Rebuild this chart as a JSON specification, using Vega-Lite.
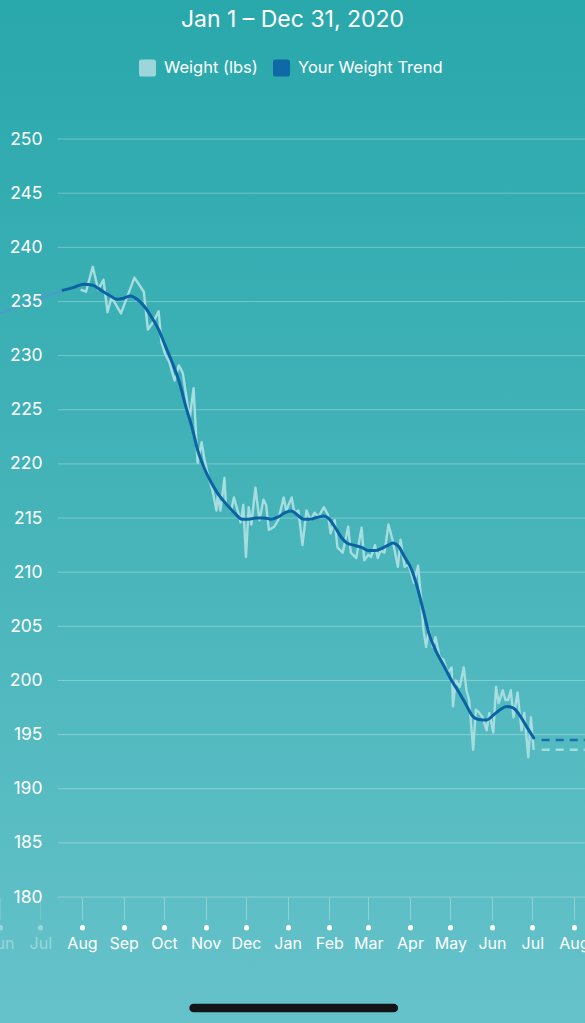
{
  "$schema": "https://vega.github.io/schema/vega-lite/v6.json",
  "width": 585,
  "height": 1023,
  "autosize": "none",
  "padding": 0,
  "background": "#48b5ba",
  "config": {"view": {"stroke": null}, "font": "Inter"},
  "title": {"text": "Jan 1 – Dec 31, 2020", "color": "white", "fontSize": 23, "font": "Inter", "fontWeight": "normal", "anchor": "middle", "frame": "group", "offset": -32, "zindex": 2},
  "datasets": {
    "grid": [{"level":180},{"level":185},{"level":190},{"level":195},{"level":200},{"level":205},{"level":210},{"level":215},{"level":220},{"level":225},{"level":230},{"level":235},{"level":240},{"level":245},{"level":250}],
    "series": [
      {"date":"2019-07-31","weight":236.1,"series":"Weight (lbs)","part":"actual"},
      {"date":"2019-08-04","weight":235.9,"series":"Weight (lbs)","part":"actual"},
      {"date":"2019-08-09","weight":238.2,"series":"Weight (lbs)","part":"actual"},
      {"date":"2019-08-13","weight":236.1,"series":"Weight (lbs)","part":"actual"},
      {"date":"2019-08-17","weight":237.0,"series":"Weight (lbs)","part":"actual"},
      {"date":"2019-08-20","weight":234.0,"series":"Weight (lbs)","part":"actual"},
      {"date":"2019-08-23","weight":235.4,"series":"Weight (lbs)","part":"actual"},
      {"date":"2019-08-30","weight":233.9,"series":"Weight (lbs)","part":"actual"},
      {"date":"2019-09-09","weight":237.2,"series":"Weight (lbs)","part":"actual"},
      {"date":"2019-09-16","weight":235.9,"series":"Weight (lbs)","part":"actual"},
      {"date":"2019-09-19","weight":232.4,"series":"Weight (lbs)","part":"actual"},
      {"date":"2019-09-23","weight":233.1,"series":"Weight (lbs)","part":"actual"},
      {"date":"2019-09-27","weight":234.1,"series":"Weight (lbs)","part":"actual"},
      {"date":"2019-09-29","weight":231.3,"series":"Weight (lbs)","part":"actual"},
      {"date":"2019-10-02","weight":230.1,"series":"Weight (lbs)","part":"actual"},
      {"date":"2019-10-05","weight":229.4,"series":"Weight (lbs)","part":"actual"},
      {"date":"2019-10-07","weight":228.5,"series":"Weight (lbs)","part":"actual"},
      {"date":"2019-10-09","weight":227.7,"series":"Weight (lbs)","part":"actual"},
      {"date":"2019-10-12","weight":229.1,"series":"Weight (lbs)","part":"actual"},
      {"date":"2019-10-15","weight":228.4,"series":"Weight (lbs)","part":"actual"},
      {"date":"2019-10-18","weight":225.9,"series":"Weight (lbs)","part":"actual"},
      {"date":"2019-10-20","weight":224.1,"series":"Weight (lbs)","part":"actual"},
      {"date":"2019-10-23","weight":227.0,"series":"Weight (lbs)","part":"actual"},
      {"date":"2019-10-26","weight":220.1,"series":"Weight (lbs)","part":"actual"},
      {"date":"2019-10-29","weight":222.0,"series":"Weight (lbs)","part":"actual"},
      {"date":"2019-10-31","weight":220.5,"series":"Weight (lbs)","part":"actual"},
      {"date":"2019-11-03","weight":218.8,"series":"Weight (lbs)","part":"actual"},
      {"date":"2019-11-06","weight":217.6,"series":"Weight (lbs)","part":"actual"},
      {"date":"2019-11-09","weight":215.7,"series":"Weight (lbs)","part":"actual"},
      {"date":"2019-11-10","weight":217.1,"series":"Weight (lbs)","part":"actual"},
      {"date":"2019-11-12","weight":215.7,"series":"Weight (lbs)","part":"actual"},
      {"date":"2019-11-15","weight":218.7,"series":"Weight (lbs)","part":"actual"},
      {"date":"2019-11-16","weight":216.4,"series":"Weight (lbs)","part":"actual"},
      {"date":"2019-11-20","weight":215.7,"series":"Weight (lbs)","part":"actual"},
      {"date":"2019-11-22","weight":216.9,"series":"Weight (lbs)","part":"actual"},
      {"date":"2019-11-25","weight":215.6,"series":"Weight (lbs)","part":"actual"},
      {"date":"2019-11-27","weight":214.6,"series":"Weight (lbs)","part":"actual"},
      {"date":"2019-11-29","weight":216.2,"series":"Weight (lbs)","part":"actual"},
      {"date":"2019-12-01","weight":211.4,"series":"Weight (lbs)","part":"actual"},
      {"date":"2019-12-03","weight":216.0,"series":"Weight (lbs)","part":"actual"},
      {"date":"2019-12-05","weight":214.4,"series":"Weight (lbs)","part":"actual"},
      {"date":"2019-12-08","weight":217.8,"series":"Weight (lbs)","part":"actual"},
      {"date":"2019-12-11","weight":214.8,"series":"Weight (lbs)","part":"actual"},
      {"date":"2019-12-14","weight":216.7,"series":"Weight (lbs)","part":"actual"},
      {"date":"2019-12-16","weight":216.2,"series":"Weight (lbs)","part":"actual"},
      {"date":"2019-12-18","weight":213.9,"series":"Weight (lbs)","part":"actual"},
      {"date":"2019-12-22","weight":214.2,"series":"Weight (lbs)","part":"actual"},
      {"date":"2019-12-25","weight":214.8,"series":"Weight (lbs)","part":"actual"},
      {"date":"2019-12-29","weight":216.9,"series":"Weight (lbs)","part":"actual"},
      {"date":"2019-12-31","weight":215.7,"series":"Weight (lbs)","part":"actual"},
      {"date":"2020-01-04","weight":216.9,"series":"Weight (lbs)","part":"actual"},
      {"date":"2020-01-06","weight":215.5,"series":"Weight (lbs)","part":"actual"},
      {"date":"2020-01-09","weight":215.7,"series":"Weight (lbs)","part":"actual"},
      {"date":"2020-01-12","weight":212.5,"series":"Weight (lbs)","part":"actual"},
      {"date":"2020-01-15","weight":215.7,"series":"Weight (lbs)","part":"actual"},
      {"date":"2020-01-18","weight":214.8,"series":"Weight (lbs)","part":"actual"},
      {"date":"2020-01-21","weight":215.5,"series":"Weight (lbs)","part":"actual"},
      {"date":"2020-01-24","weight":215.1,"series":"Weight (lbs)","part":"actual"},
      {"date":"2020-01-26","weight":215.6,"series":"Weight (lbs)","part":"actual"},
      {"date":"2020-01-28","weight":216.0,"series":"Weight (lbs)","part":"actual"},
      {"date":"2020-01-31","weight":215.3,"series":"Weight (lbs)","part":"actual"},
      {"date":"2020-02-02","weight":213.6,"series":"Weight (lbs)","part":"actual"},
      {"date":"2020-02-05","weight":214.8,"series":"Weight (lbs)","part":"actual"},
      {"date":"2020-02-07","weight":212.3,"series":"Weight (lbs)","part":"actual"},
      {"date":"2020-02-11","weight":211.8,"series":"Weight (lbs)","part":"actual"},
      {"date":"2020-02-15","weight":214.2,"series":"Weight (lbs)","part":"actual"},
      {"date":"2020-02-17","weight":211.8,"series":"Weight (lbs)","part":"actual"},
      {"date":"2020-02-21","weight":211.3,"series":"Weight (lbs)","part":"actual"},
      {"date":"2020-02-25","weight":214.1,"series":"Weight (lbs)","part":"actual"},
      {"date":"2020-02-27","weight":211.1,"series":"Weight (lbs)","part":"actual"},
      {"date":"2020-03-01","weight":211.6,"series":"Weight (lbs)","part":"actual"},
      {"date":"2020-03-03","weight":211.4,"series":"Weight (lbs)","part":"actual"},
      {"date":"2020-03-06","weight":212.5,"series":"Weight (lbs)","part":"actual"},
      {"date":"2020-03-08","weight":211.3,"series":"Weight (lbs)","part":"actual"},
      {"date":"2020-03-10","weight":212.0,"series":"Weight (lbs)","part":"actual"},
      {"date":"2020-03-13","weight":211.8,"series":"Weight (lbs)","part":"actual"},
      {"date":"2020-03-16","weight":214.4,"series":"Weight (lbs)","part":"actual"},
      {"date":"2020-03-19","weight":213.0,"series":"Weight (lbs)","part":"actual"},
      {"date":"2020-03-22","weight":211.1,"series":"Weight (lbs)","part":"actual"},
      {"date":"2020-03-23","weight":210.5,"series":"Weight (lbs)","part":"actual"},
      {"date":"2020-03-25","weight":213.0,"series":"Weight (lbs)","part":"actual"},
      {"date":"2020-03-28","weight":210.5,"series":"Weight (lbs)","part":"actual"},
      {"date":"2020-03-31","weight":210.7,"series":"Weight (lbs)","part":"actual"},
      {"date":"2020-04-04","weight":209.0,"series":"Weight (lbs)","part":"actual"},
      {"date":"2020-04-07","weight":210.6,"series":"Weight (lbs)","part":"actual"},
      {"date":"2020-04-09","weight":207.9,"series":"Weight (lbs)","part":"actual"},
      {"date":"2020-04-11","weight":204.7,"series":"Weight (lbs)","part":"actual"},
      {"date":"2020-04-13","weight":203.1,"series":"Weight (lbs)","part":"actual"},
      {"date":"2020-04-15","weight":204.7,"series":"Weight (lbs)","part":"actual"},
      {"date":"2020-04-18","weight":203.1,"series":"Weight (lbs)","part":"actual"},
      {"date":"2020-04-20","weight":204.0,"series":"Weight (lbs)","part":"actual"},
      {"date":"2020-04-23","weight":202.2,"series":"Weight (lbs)","part":"actual"},
      {"date":"2020-04-26","weight":201.9,"series":"Weight (lbs)","part":"actual"},
      {"date":"2020-04-29","weight":200.7,"series":"Weight (lbs)","part":"actual"},
      {"date":"2020-05-02","weight":201.2,"series":"Weight (lbs)","part":"actual"},
      {"date":"2020-05-03","weight":197.6,"series":"Weight (lbs)","part":"actual"},
      {"date":"2020-05-05","weight":200.0,"series":"Weight (lbs)","part":"actual"},
      {"date":"2020-05-08","weight":199.4,"series":"Weight (lbs)","part":"actual"},
      {"date":"2020-05-11","weight":201.2,"series":"Weight (lbs)","part":"actual"},
      {"date":"2020-05-13","weight":199.1,"series":"Weight (lbs)","part":"actual"},
      {"date":"2020-05-15","weight":198.2,"series":"Weight (lbs)","part":"actual"},
      {"date":"2020-05-18","weight":193.6,"series":"Weight (lbs)","part":"actual"},
      {"date":"2020-05-20","weight":197.3,"series":"Weight (lbs)","part":"actual"},
      {"date":"2020-05-22","weight":197.1,"series":"Weight (lbs)","part":"actual"},
      {"date":"2020-05-25","weight":196.6,"series":"Weight (lbs)","part":"actual"},
      {"date":"2020-05-28","weight":195.4,"series":"Weight (lbs)","part":"actual"},
      {"date":"2020-05-30","weight":197.0,"series":"Weight (lbs)","part":"actual"},
      {"date":"2020-06-02","weight":195.2,"series":"Weight (lbs)","part":"actual"},
      {"date":"2020-06-04","weight":199.4,"series":"Weight (lbs)","part":"actual"},
      {"date":"2020-06-06","weight":197.9,"series":"Weight (lbs)","part":"actual"},
      {"date":"2020-06-09","weight":199.1,"series":"Weight (lbs)","part":"actual"},
      {"date":"2020-06-11","weight":198.2,"series":"Weight (lbs)","part":"actual"},
      {"date":"2020-06-13","weight":198.2,"series":"Weight (lbs)","part":"actual"},
      {"date":"2020-06-15","weight":199.1,"series":"Weight (lbs)","part":"actual"},
      {"date":"2020-06-17","weight":196.6,"series":"Weight (lbs)","part":"actual"},
      {"date":"2020-06-20","weight":198.9,"series":"Weight (lbs)","part":"actual"},
      {"date":"2020-06-23","weight":195.4,"series":"Weight (lbs)","part":"actual"},
      {"date":"2020-06-25","weight":197.0,"series":"Weight (lbs)","part":"actual"},
      {"date":"2020-06-28","weight":192.9,"series":"Weight (lbs)","part":"actual"},
      {"date":"2020-06-30","weight":196.6,"series":"Weight (lbs)","part":"actual"},
      {"date":"2020-07-02","weight":193.6,"series":"Weight (lbs)","part":"actual"},
      {"date":"2020-07-08","weight":193.6,"series":"Weight (lbs)","part":"projection"},
      {"date":"2020-08-09","weight":193.6,"series":"Weight (lbs)","part":"projection"},
      {"date":"2019-06-01","weight":233.9,"series":"Your Weight Trend","part":"past"},
      {"date":"2019-07-18","weight":236.05,"series":"Your Weight Trend","part":"past"},
      {"date":"2019-07-18","weight":236.05,"series":"Your Weight Trend","part":"actual"},
      {"date":"2019-07-26","weight":236.3,"series":"Your Weight Trend","part":"actual"},
      {"date":"2019-08-02","weight":236.6,"series":"Your Weight Trend","part":"actual"},
      {"date":"2019-08-09","weight":236.5,"series":"Your Weight Trend","part":"actual"},
      {"date":"2019-08-15","weight":236.05,"series":"Your Weight Trend","part":"actual"},
      {"date":"2019-08-21","weight":235.6,"series":"Your Weight Trend","part":"actual"},
      {"date":"2019-08-27","weight":235.2,"series":"Your Weight Trend","part":"actual"},
      {"date":"2019-09-01","weight":235.3,"series":"Your Weight Trend","part":"actual"},
      {"date":"2019-09-06","weight":235.5,"series":"Your Weight Trend","part":"actual"},
      {"date":"2019-09-11","weight":235.2,"series":"Your Weight Trend","part":"actual"},
      {"date":"2019-09-16","weight":234.6,"series":"Your Weight Trend","part":"actual"},
      {"date":"2019-09-21","weight":233.7,"series":"Your Weight Trend","part":"actual"},
      {"date":"2019-09-27","weight":232.4,"series":"Your Weight Trend","part":"actual"},
      {"date":"2019-10-02","weight":230.9,"series":"Your Weight Trend","part":"actual"},
      {"date":"2019-10-08","weight":229.1,"series":"Your Weight Trend","part":"actual"},
      {"date":"2019-10-13","weight":227.3,"series":"Your Weight Trend","part":"actual"},
      {"date":"2019-10-17","weight":225.4,"series":"Your Weight Trend","part":"actual"},
      {"date":"2019-10-22","weight":223.3,"series":"Your Weight Trend","part":"actual"},
      {"date":"2019-10-26","weight":221.3,"series":"Your Weight Trend","part":"actual"},
      {"date":"2019-10-31","weight":219.6,"series":"Your Weight Trend","part":"actual"},
      {"date":"2019-11-05","weight":218.3,"series":"Your Weight Trend","part":"actual"},
      {"date":"2019-11-11","weight":217.1,"series":"Your Weight Trend","part":"actual"},
      {"date":"2019-11-17","weight":216.2,"series":"Your Weight Trend","part":"actual"},
      {"date":"2019-11-23","weight":215.4,"series":"Your Weight Trend","part":"actual"},
      {"date":"2019-11-28","weight":214.9,"series":"Your Weight Trend","part":"actual"},
      {"date":"2019-12-03","weight":214.9,"series":"Your Weight Trend","part":"actual"},
      {"date":"2019-12-09","weight":215.0,"series":"Your Weight Trend","part":"actual"},
      {"date":"2019-12-14","weight":215.0,"series":"Your Weight Trend","part":"actual"},
      {"date":"2019-12-20","weight":214.9,"series":"Your Weight Trend","part":"actual"},
      {"date":"2019-12-25","weight":215.1,"series":"Your Weight Trend","part":"actual"},
      {"date":"2019-12-30","weight":215.5,"series":"Your Weight Trend","part":"actual"},
      {"date":"2020-01-04","weight":215.65,"series":"Your Weight Trend","part":"actual"},
      {"date":"2020-01-08","weight":215.3,"series":"Your Weight Trend","part":"actual"},
      {"date":"2020-01-13","weight":214.9,"series":"Your Weight Trend","part":"actual"},
      {"date":"2020-01-18","weight":214.9,"series":"Your Weight Trend","part":"actual"},
      {"date":"2020-01-24","weight":215.1,"series":"Your Weight Trend","part":"actual"},
      {"date":"2020-01-28","weight":215.2,"series":"Your Weight Trend","part":"actual"},
      {"date":"2020-02-01","weight":214.9,"series":"Your Weight Trend","part":"actual"},
      {"date":"2020-02-05","weight":214.2,"series":"Your Weight Trend","part":"actual"},
      {"date":"2020-02-10","weight":213.2,"series":"Your Weight Trend","part":"actual"},
      {"date":"2020-02-14","weight":212.7,"series":"Your Weight Trend","part":"actual"},
      {"date":"2020-02-19","weight":212.5,"series":"Your Weight Trend","part":"actual"},
      {"date":"2020-02-25","weight":212.3,"series":"Your Weight Trend","part":"actual"},
      {"date":"2020-03-01","weight":212.0,"series":"Your Weight Trend","part":"actual"},
      {"date":"2020-03-06","weight":212.0,"series":"Your Weight Trend","part":"actual"},
      {"date":"2020-03-11","weight":212.2,"series":"Your Weight Trend","part":"actual"},
      {"date":"2020-03-16","weight":212.5,"series":"Your Weight Trend","part":"actual"},
      {"date":"2020-03-19","weight":212.7,"series":"Your Weight Trend","part":"actual"},
      {"date":"2020-03-24","weight":212.3,"series":"Your Weight Trend","part":"actual"},
      {"date":"2020-03-28","weight":211.4,"series":"Your Weight Trend","part":"actual"},
      {"date":"2020-04-02","weight":210.3,"series":"Your Weight Trend","part":"actual"},
      {"date":"2020-04-06","weight":208.8,"series":"Your Weight Trend","part":"actual"},
      {"date":"2020-04-11","weight":206.4,"series":"Your Weight Trend","part":"actual"},
      {"date":"2020-04-15","weight":204.4,"series":"Your Weight Trend","part":"actual"},
      {"date":"2020-04-20","weight":202.8,"series":"Your Weight Trend","part":"actual"},
      {"date":"2020-04-26","weight":201.4,"series":"Your Weight Trend","part":"actual"},
      {"date":"2020-05-02","weight":200.0,"series":"Your Weight Trend","part":"actual"},
      {"date":"2020-05-08","weight":198.8,"series":"Your Weight Trend","part":"actual"},
      {"date":"2020-05-13","weight":197.7,"series":"Your Weight Trend","part":"actual"},
      {"date":"2020-05-17","weight":196.8,"series":"Your Weight Trend","part":"actual"},
      {"date":"2020-05-22","weight":196.4,"series":"Your Weight Trend","part":"actual"},
      {"date":"2020-05-28","weight":196.35,"series":"Your Weight Trend","part":"actual"},
      {"date":"2020-06-02","weight":196.8,"series":"Your Weight Trend","part":"actual"},
      {"date":"2020-06-07","weight":197.3,"series":"Your Weight Trend","part":"actual"},
      {"date":"2020-06-12","weight":197.6,"series":"Your Weight Trend","part":"actual"},
      {"date":"2020-06-17","weight":197.45,"series":"Your Weight Trend","part":"actual"},
      {"date":"2020-06-21","weight":196.9,"series":"Your Weight Trend","part":"actual"},
      {"date":"2020-06-26","weight":195.9,"series":"Your Weight Trend","part":"actual"},
      {"date":"2020-07-02","weight":194.7,"series":"Your Weight Trend","part":"actual"},
      {"date":"2020-07-08","weight":194.5,"series":"Your Weight Trend","part":"projection"},
      {"date":"2020-08-09","weight":194.5,"series":"Your Weight Trend","part":"projection"}
    ]
  },
  "data": {"name": "series"},
  "layer": [
    {
      "data": {"values": [{}]},
      "mark": {"type": "rect", "color": {"gradient": "linear", "x1": 0, "y1": 0, "x2": 0, "y2": 1, "stops": [{"offset": 0, "color": "#29a8ac"}, {"offset": 0.5, "color": "#45b4b9"}, {"offset": 1, "color": "#66c2ca"}]}},
      "encoding": {}
    },
    {
      "data": {"name": "grid"},
      "mark": {"type": "rule", "color": "white", "strokeWidth": 1, "opacity": 0.3},
      "encoding": {
        "y": {"field": "level", "type": "quantitative", "scale": {"domain": [168.37, 262.84], "zero": false, "nice": false}, "axis": null},
        "x": {"datum": {"year": 2019, "month": 7, "date": 14, "utc": true}, "type": "temporal", "scale": {"type": "utc", "domain": [{"year": 2019, "month": 6, "date": 1, "utc": true}, {"year": 2020, "month": 8, "date": 9, "hours": 5, "utc": true}]}, "axis": null},
        "x2": {"datum": {"year": 2020, "month": 8, "date": 9, "hours": 4, "utc": true}}
      }
    },
    {
      "data": {"values": [{}]},
      "mark": {"type": "rule", "color": "#121417", "strokeWidth": 8.5, "strokeCap": "round"},
      "encoding": {
        "y": {"datum": 169.76, "type": "quantitative", "axis": null},
        "x": {"datum": {"year": 2019, "month": 10, "date": 23, "utc": true}, "type": "temporal", "axis": null},
        "x2": {"datum": {"year": 2020, "month": 3, "date": 20, "utc": true}}
      }
    },
    {
      "transform": [{"filter": "datum.part === 'past'"}],
      "mark": {"type": "line", "strokeWidth": 2.5, "color": "#4a9dc9", "opacity": 1},
      "encoding": {
        "x": {"field": "date", "type": "temporal", "axis": null},
        "y": {"field": "weight", "type": "quantitative", "axis": null}
      }
    },
    {
      "transform": [{"filter": "datum.part === 'actual' && datum.series === 'Weight (lbs)'"}],
      "mark": {"type": "line", "strokeWidth": 2.4, "strokeJoin": "round", "color": "#a6dde0"},
      "encoding": {
        "x": {"field": "date", "type": "temporal", "axis": {"zindex": 2, "orient": "bottom", "offset": -126, "values": [{"year":2019,"month":6,"date":1,"utc":true},{"year":2019,"month":7,"date":1,"utc":true},{"year":2019,"month":8,"date":1,"utc":true},{"year":2019,"month":9,"date":1,"utc":true},{"year":2019,"month":10,"date":1,"utc":true},{"year":2019,"month":11,"date":1,"utc":true},{"year":2019,"month":12,"date":1,"utc":true},{"year":2020,"month":1,"date":1,"utc":true},{"year":2020,"month":2,"date":1,"utc":true},{"year":2020,"month":3,"date":1,"utc":true},{"year":2020,"month":4,"date":1,"utc":true},{"year":2020,"month":5,"date":1,"utc":true},{"year":2020,"month":6,"date":1,"utc":true},{"year":2020,"month":7,"date":1,"utc":true},{"year":2020,"month":8,"date":1,"utc":true}], "labels": false, "domain": false, "grid": false, "ticks": true, "tickSize": 23, "tickColor": "white", "tickOpacity": {"condition": {"test": "datum.value < utc(2019,6,15)", "value": 0.15}, "value": 0.3}, "tickWidth": 1, "title": null}},
        "y": {"field": "weight", "type": "quantitative", "axis": null}
      }
    },
    {
      "transform": [{"filter": "datum.part === 'projection' && datum.series === 'Weight (lbs)'"}],
      "mark": {"type": "line", "strokeWidth": 2.6, "strokeDash": [8, 6], "color": "#a6dde0"},
      "encoding": {
        "x": {"field": "date", "type": "temporal", "axis": null},
        "y": {"field": "weight", "type": "quantitative", "axis": null}
      }
    },
    {
      "transform": [{"filter": "datum.part === 'projection' && datum.series === 'Your Weight Trend'"}],
      "mark": {"type": "line", "strokeWidth": 2.6, "strokeDash": [8, 6], "color": "#1a6fac"},
      "encoding": {
        "x": {"field": "date", "type": "temporal", "axis": null},
        "y": {"field": "weight", "type": "quantitative", "axis": null}
      }
    },
    {
      "transform": [{"filter": "datum.part === 'actual' && datum.series === 'Your Weight Trend'"}],
      "mark": {"type": "line", "strokeWidth": 3, "interpolate": "monotone", "strokeCap": "round", "color": "#0b63a3"},
      "encoding": {
        "x": {"field": "date", "type": "temporal", "axis": {"zindex": 2, "orient": "bottom", "offset": -96, "values": [{"year":2019,"month":6,"date":1,"utc":true},{"year":2019,"month":7,"date":1,"utc":true},{"year":2019,"month":8,"date":1,"utc":true},{"year":2019,"month":9,"date":1,"utc":true},{"year":2019,"month":10,"date":1,"utc":true},{"year":2019,"month":11,"date":1,"utc":true},{"year":2019,"month":12,"date":1,"utc":true},{"year":2020,"month":1,"date":1,"utc":true},{"year":2020,"month":2,"date":1,"utc":true},{"year":2020,"month":3,"date":1,"utc":true},{"year":2020,"month":4,"date":1,"utc":true},{"year":2020,"month":5,"date":1,"utc":true},{"year":2020,"month":6,"date":1,"utc":true},{"year":2020,"month":7,"date":1,"utc":true},{"year":2020,"month":8,"date":1,"utc":true}], "labelExpr": "utcFormat(datum.value, '%b')", "domain": false, "grid": false, "ticks": true, "tickSize": 0.5, "tickWidth": 5, "tickCap": "round", "tickColor": "white", "tickOpacity": {"condition": {"test": "datum.value < utc(2019,6,15)", "value": 0.35}, "value": 1}, "labelColor": "white", "labelOpacity": {"condition": {"test": "datum.value < utc(2019,6,15)", "value": 0.35}, "value": 1}, "labelFontSize": 16, "labelFont": "Inter", "labelPadding": 8, "labelOverlap": false, "labelFlush": false, "labelBound": false, "title": null}},
        "y": {"field": "weight", "type": "quantitative", "axis": {"zindex": 2, "orient": "left", "offset": -42, "values": [180,185,190,195,200,205,210,215,220,225,230,235,240,245,250], "grid": false, "domain": false, "ticks": false, "tickSize": 0, "labelPadding": 0, "labelAlign": "right", "labelBaseline": "middle", "labelColor": "white", "labelFontSize": 17.5, "labelFont": "Inter", "labelOverlap": false, "labelFlush": false, "title": null}}
      }
    },
    {
      "transform": [{"filter": "datum.part === 'actual'"}],
      "mark": {"type": "square", "opacity": 0, "filled": true},
      "encoding": {
        "x": {"field": "date", "type": "temporal", "axis": null},
        "y": {"field": "weight", "type": "quantitative", "axis": null},
        "color": {"field": "series", "type": "nominal", "scale": {"domain": ["Weight (lbs)", "Your Weight Trend"], "range": ["#9dd6da", "#0f69a6"]}, "legend": {"zindex": 2, "title": null, "orient": "none", "legendX": 139, "legendY": 59.5, "direction": "horizontal", "symbolType": "M -0.7,-1 H 0.7 Q 1,-1 1,-0.7 V 0.7 Q 1,1 0.7,1 H -0.7 Q -1,1 -1,0.7 V -0.7 Q -1,-1 -0.7,-1 Z", "symbolSize": 289, "symbolOpacity": 1, "symbolStrokeWidth": 0, "labelColor": "white", "labelFontSize": 16.5, "labelFont": "Inter", "labelOffset": 8, "columnPadding": 15, "padding": 0, "labelLimit": 300}}
      }
    }
  ],
  "resolve": {"axis": {"x": "independent", "y": "independent"}}
}
